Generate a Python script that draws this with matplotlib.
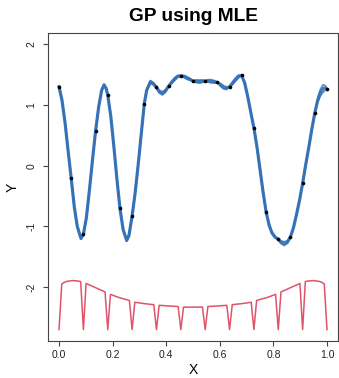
import numpy as np
import matplotlib
matplotlib.use("Agg")
import matplotlib.pyplot as plt

plt.rcParams['font.family'] = ['Liberation Sans', 'DejaVu Sans']

# design points, equally spaced on [0, 1]
pts_x = [i / 22 for i in range(23)]
pts_y = [1.30, -0.21, -1.13, 0.57, 1.16, -0.70, -0.83, 1.02, 1.29, 1.31, 1.48, 1.395,
         1.395, 1.37, 1.30, 1.485, 0.62, -0.76, -1.21, -1.175, -0.29, 0.87, 1.26]

# predictive mean (knots) and the spread between the overlaid sample paths
curve_x = [0.0, 0.011, 0.0227, 0.034, 0.0455, 0.057, 0.068, 0.082, 0.0909, 0.102,
           0.114, 0.125, 0.1364, 0.148, 0.159, 0.168, 0.176, 0.1818, 0.193, 0.205,
           0.216, 0.2273, 0.239, 0.2525, 0.261, 0.2727, 0.284, 0.295, 0.307, 0.3182,
           0.327, 0.341, 0.352, 0.3636, 0.374, 0.386, 0.397, 0.4091, 0.42, 0.432,
           0.443, 0.4545, 0.466, 0.477, 0.489, 0.5, 0.511, 0.523, 0.534, 0.5455,
           0.557, 0.568, 0.58, 0.5909, 0.603, 0.614, 0.625, 0.6364, 0.648, 0.659,
           0.67, 0.6818, 0.693, 0.705, 0.716, 0.7273, 0.739, 0.75, 0.761, 0.7727,
           0.784, 0.795, 0.807, 0.8182, 0.828, 0.84, 0.852, 0.8636, 0.875, 0.886,
           0.898, 0.9091, 0.92, 0.932, 0.943, 0.9545, 0.965, 0.975, 0.985, 0.993, 1.0]
curve_y = [1.30, 1.08, 0.70, 0.24, -0.21, -0.68, -1.00, -1.20, -1.13, -0.86,
           -0.38, 0.10, 0.57, 0.97, 1.24, 1.33, 1.27, 1.16, 0.82, 0.30,
           -0.22, -0.70, -1.05, -1.23, -1.15, -0.83, -0.45, 0.0, 0.53, 1.02,
           1.24, 1.38, 1.35, 1.29, 1.22, 1.19, 1.23, 1.31, 1.37, 1.43,
           1.47, 1.48, 1.47, 1.445, 1.42, 1.395, 1.39, 1.385, 1.39, 1.395,
           1.395, 1.39, 1.38, 1.37, 1.33, 1.29, 1.275, 1.30, 1.36, 1.42,
           1.47, 1.485, 1.36, 1.12, 0.87, 0.62, 0.30, -0.06, -0.42, -0.76,
           -0.98, -1.11, -1.18, -1.21, -1.26, -1.285, -1.26, -1.175, -1.02, -0.81,
           -0.56, -0.29, 0.0, 0.30, 0.59, 0.87, 1.07, 1.20, 1.27, 1.28, 1.26]
curve_spread = [0, 0.01, 0.01, 0.01, 0, 0.01, 0.01, 0.01, 0, 0.01,
                0.01, 0.01, 0, 0.01, 0.01, 0.01, 0.005, 0, 0.01, 0.01,
                0.01, 0, 0.01, 0.015, 0.01, 0, 0.01, 0.01, 0.01, 0,
                0.01, 0.02, 0.015, 0, 0.02, 0.025, 0.02, 0, 0.015, 0.02,
                0.015, 0, 0.015, 0.02, 0.015, 0, 0.02, 0.025, 0.02, 0,
                0.02, 0.025, 0.02, 0, 0.02, 0.025, 0.02, 0, 0.02, 0.025,
                0.02, 0, 0.01, 0.01, 0.01, 0, 0.01, 0.01, 0.01, 0,
                0.01, 0.01, 0.01, 0, 0.02, 0.03, 0.02, 0, 0.01, 0.01,
                0.01, 0, 0.01, 0.01, 0.01, 0, 0.03, 0.05, 0.06, 0.04, 0]

# shifted predictive sd on the 100-point grid (index k -> x = k/99)
red_idx = [0, 1, 2, 3, 5, 7, 8, 9, 10, 13, 17, 18, 19, 22, 26, 27, 28, 31, 35, 36,
           37, 40, 44, 45, 46, 49, 53, 54, 55, 59, 62, 63, 64, 68, 71, 72, 73, 77,
           80, 81, 82, 86, 89, 90, 91, 92, 94, 96, 97, 98, 99]
red_y = [-2.70, -1.95, -1.92, -1.905, -1.893, -1.90, -1.91, -2.70, -1.94, -2.00,
         -2.08, -2.70, -2.12, -2.17, -2.22, -2.70, -2.25, -2.27, -2.29, -2.70,
         -2.30, -2.31, -2.32, -2.70, -2.33, -2.33, -2.33, -2.70, -2.32, -2.31,
         -2.30, -2.70, -2.29, -2.27, -2.25, -2.70, -2.22, -2.17, -2.12, -2.70,
         -2.08, -2.00, -1.94, -2.70, -1.91, -1.90, -1.893, -1.905, -1.92, -1.95,
         -2.70]

fig = plt.figure(figsize=(3.39, 3.78), dpi=100)
ax = fig.add_axes([0.1425, 0.0979, 0.8537, 0.8153])

blue = '#3370b6'
cx = np.array(curve_x)
cy = np.array(curve_y)
cs = np.array(curve_spread)
ax.plot(cx, cy + cs, color=blue, lw=1.4, alpha=0.75)
ax.plot(cx, cy - cs, color=blue, lw=1.4, alpha=0.75)
ax.plot(cx, cy, color=blue, lw=2.3, alpha=0.9)

ax.plot(np.array(red_idx) / 99, red_y, color='#df536b', lw=1.1)
ax.plot(pts_x, pts_y, 'o', color='black', ms=2.6, mec='none')

ax.set_xlim(-0.04, 1.04)
ax.set_ylim(-2.888, 2.188)
ax.set_xticks([0, 0.2, 0.4, 0.6, 0.8, 1.0])
ax.set_xticklabels(['0.0', '0.2', '0.4', '0.6', '0.8', '1.0'])
ax.set_yticks([-2, -1, 0, 1, 2])
ax.set_yticklabels(['-2', '-1', '0', '1', '2'], rotation=90, va='center')

for s in ax.spines.values():
    s.set_color('#444444')
    s.set_linewidth(0.8)
ax.tick_params(axis='both', direction='out', length=3.6, width=0.8, color='#444444',
               labelsize=7.5, labelcolor='#222222')
ax.tick_params(axis='x', pad=3)
ax.tick_params(axis='y', pad=5)

ax.set_xlabel('X', fontsize=10, va='center')
ax.set_ylabel('Y', fontsize=10, rotation=90, va='center')
ax.xaxis.set_label_coords(0.5, -0.094)
ax.yaxis.set_label_coords(-0.123, 0.5)
ax.set_title('GP using MLE', fontsize=13.8, fontweight='bold', y=1.0535, va='center', pad=0)

fig.savefig('out.png', dpi=100)
